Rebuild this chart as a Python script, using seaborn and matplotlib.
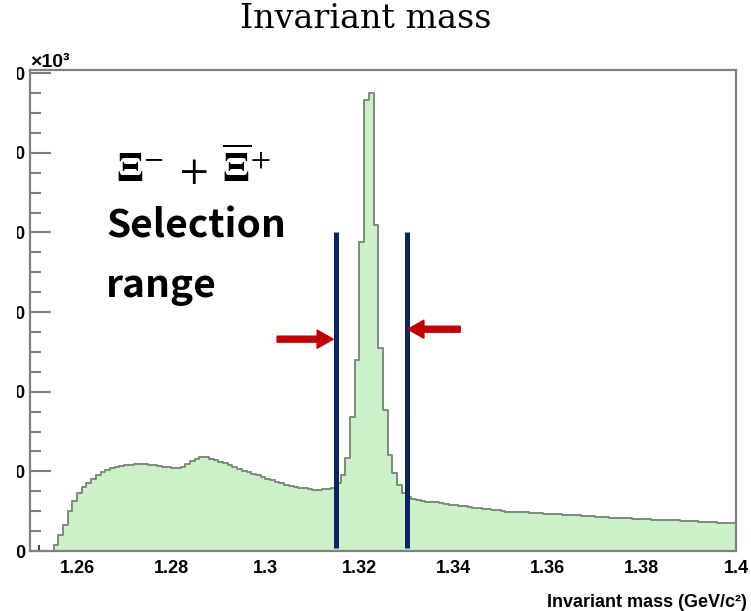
import numpy as np
import pandas as pd
import matplotlib
matplotlib.use("Agg")
import matplotlib.pyplot as plt
import seaborn as sns
from matplotlib.ticker import MultipleLocator
from matplotlib.patches import Rectangle

# ---------------- data ----------------
bin_start = 1.250      # GeV/c^2, left edge of first bin
bin_width = 0.001      # GeV/c^2
counts_k = [  # entries per bin, in units of 10^3
    0, 0, 0, 0, 0, 0.7, 2.0, 3.3, 5.0, 6.3,
    7.3, 8.0, 8.6, 9.0, 9.5, 9.9, 10.2, 10.4, 10.55, 10.7,
    10.8, 10.85, 10.9, 10.9, 10.9, 10.85, 10.75, 10.7, 10.6, 10.5,
    10.4, 10.4, 10.5, 10.9, 11.3, 11.6, 11.8, 11.75, 11.6, 11.4,
    11.2, 11.0, 10.8, 10.6, 10.35, 10.1, 9.9, 9.7, 9.5, 9.3,
    9.1, 8.9, 8.7, 8.55, 8.35, 8.2, 8.05, 7.95, 7.85, 7.75,
    7.7, 7.65, 7.75, 7.8, 7.9, 8.5, 9.5, 11.7, 16.8, 24.0,
    38.8, 56.6, 57.5, 40.9, 25.5, 17.7, 12.0, 9.8, 8.3, 7.3,
    6.8, 6.5, 6.35, 6.25, 6.2, 6.2, 6.15, 6.0, 5.85, 5.8,
    5.75, 5.7, 5.6, 5.5, 5.4, 5.35, 5.3, 5.3, 5.2, 5.1,
    5.0, 4.95, 4.9, 4.9, 4.9, 4.85, 4.8, 4.8, 4.75, 4.7,
    4.65, 4.65, 4.6, 4.55, 4.5, 4.5, 4.5, 4.45, 4.4, 4.35,
    4.3, 4.3, 4.25, 4.2, 4.15, 4.15, 4.1, 4.1, 4.05, 4.0,
    4.0, 4.0, 3.95, 3.9, 3.9, 3.9, 3.85, 3.85, 3.8, 3.8,
    3.8, 3.75, 3.7, 3.65, 3.6, 3.6, 3.55, 3.5, 3.5, 3.5,
]
x_ticks = [1.26, 1.28, 1.30, 1.32, 1.34, 1.36, 1.38, 1.40]
x_tick_labels = ["1.26", "1.28", "1.3", "1.32", "1.34", "1.36", "1.38", "1.4"]
y_ticks = [0, 10, 20, 30, 40, 50, 60]
y_tick_labels = ["0", "10", "20", "30", "40", "50", "60"]
selection_range = [1.315, 1.330]
selection_line_span = [0.4, 40.1]
arrow_left = [(1.3025, 26.6), (1.3144, 26.6)]    # tail, tip
arrow_right = [(1.3414, 27.85), (1.3303, 27.85)]  # tail, tip

edges = [bin_start + bin_width * i for i in range(len(counts_k) + 1)]
centers = [e + bin_width / 2 for e in edges[:-1]]
df = pd.DataFrame({"mass": centers, "count": counts_k})

# ---------------- style ----------------
sns.set_theme(style="white")
plt.rcParams["font.family"] = ["Liberation Sans", "DejaVu Sans"]
plt.rcParams["mathtext.fontset"] = "stix"
plt.rcParams["text.color"] = "black"
plt.rcParams["axes.labelcolor"] = "black"

W, H = 751, 611
fig = plt.figure(figsize=(W / 100, H / 100), dpi=100)
ax = fig.add_axes([30 / W, 60 / H, 706 / W, 481 / H])

sns.histplot(data=df, x="mass", weights="count", bins=edges,
             element="step", fill=True, ax=ax,
             color="#ccf0c8", linewidth=1.4)
# opaque fill with a grey edge, as in the reference
for coll in ax.collections:
    coll.set_alpha(1)
    coll.set_facecolor("#ccf0c8")
    coll.set_edgecolor("#7d8b7d")
    coll.set_linewidth(1.4)
for ln in ax.lines:
    ln.set_color("#7d8b7d")
    ln.set_alpha(1)

ax.set_xlim(1.25, 1.40)
ax.set_ylim(0, 60.4)
ax.set_xlabel("")
ax.set_ylabel("")

ax.set_xticks(x_ticks, x_tick_labels)
ax.xaxis.set_minor_locator(MultipleLocator(0.004))
ax.set_yticks(y_ticks, y_tick_labels)
ax.yaxis.set_minor_locator(MultipleLocator(2.5))

ax.tick_params(bottom=True, left=True, top=False, right=False, which="both")
ax.tick_params(axis="x", which="major", direction="in", length=8.6, width=1.4,
               color="#3a4a3a", pad=6.5, labelsize=13, labelcolor="black")
ax.tick_params(axis="x", which="minor", direction="in", length=4.3, width=1.4,
               color="#3a4a3a")
ax.tick_params(axis="y", which="major", direction="in", length=15, width=1.5,
               color="#808080", pad=3, labelsize=13, labelcolor="black")
ax.tick_params(axis="y", which="minor", direction="in", length=8, width=1.5,
               color="#808080")
for lab in ax.get_xticklabels() + ax.get_yticklabels():
    lab.set_fontweight("bold")

for sp in ax.spines.values():
    sp.set_visible(True)
    sp.set_color("#808080")
    sp.set_linewidth(1.6)

# selection range lines
ax.vlines(selection_range, selection_line_span[0], selection_line_span[1],
          colors="#0b2563", linewidth=3.6, zorder=4)

# arrows
for tail, tip in (arrow_left, arrow_right):
    ax.annotate("", xy=tip, xytext=tail,
                arrowprops=dict(arrowstyle="simple,head_length=1.15,head_width=1.3,tail_width=0.43",
                                color="#c00000", mutation_scale=10,
                                shrinkA=0, shrinkB=0), zorder=5)

# axis label (right-aligned, ROOT style)
ax.set_xlabel("Invariant mass (GeV/c²)", fontsize=13, fontweight="bold",
              ha="right", va="baseline", color="black")
ax.xaxis.set_label_coords((747 - 30) / 706, (551 - 607) / 481)

# exponent label
fig.text(30 / W, 1 - 67 / H, "×10³", fontsize=14, fontweight="bold",
         ha="left", va="baseline", color="black")

# title
fig.text(366 / W, 1 - 28 / H, "Invariant mass", family="DejaVu Serif",
         fontsize=24, ha="center", va="baseline", color="black")

# annotation text
fig.text(116 / W, 1 - 183 / H,
         r"$\mathbf{\Xi}^{-}\;+\;\overline{\mathbf{\Xi}}^{+}$",
         fontsize=30, ha="left", va="baseline", color="black")
fig.text(106 / W, 1 - 237 / H, "Selection", family=["Noto Sans CJK SC", "DejaVu Sans"],
         fontsize=28, fontweight="bold", ha="left", va="baseline", color="black")
fig.text(106 / W, 1 - 297 / H, "range", family=["Noto Sans CJK SC", "DejaVu Sans"],
         fontsize=28, fontweight="bold", ha="left", va="baseline", color="black")

# the reference image is cropped at the left, hiding part of the y labels
fig.add_artist(Rectangle((0, 0), 17 / W, 1, transform=fig.transFigure,
                         facecolor="white", edgecolor="none", zorder=10))

fig.savefig("out.png", dpi=100)
